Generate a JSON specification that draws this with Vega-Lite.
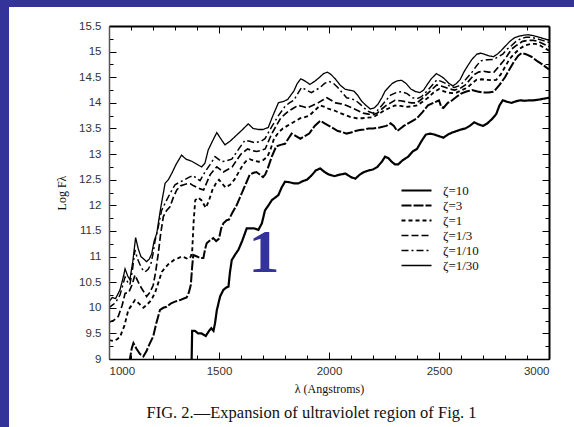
{
  "$schema": "https://vega.github.io/schema/vega-lite/v6.json",
  "width": 440,
  "height": 333,
  "autosize": "none",
  "padding": {"left": 109, "top": 26, "right": 25, "bottom": 68},
  "background": "#333399",
  "config": {"view": {"stroke": null}},
  "resolve": {"axis": {"x": "independent", "y": "independent"}},
  "layer": [
    {
      "data": {"values": [{"panel": "bg"}]},
      "mark": {"type": "rect", "fill": "white", "clip": false},
      "encoding": {
        "x": {"datum": 545.5, "type": "quantitative", "scale": {"domain": [1000, 3000], "nice": false, "zero": false},
          "axis": {"orient": "top", "values": [1000,1100,1200,1300,1400,1500,1600,1700,1800,1900,2000,2100,2200,2300,2400,2500,2600,2700,2800,2900,3000],
            "labels": false, "title": null, "grid": false, "domainColor": "#000", "domainWidth": 2, "tickColor": "#000",
            "tickSize": {"condition": {"test": "datum.value % 500 === 0", "value": -7}, "value": -4}, "zindex": 1}},
        "x2": {"datum": 3300},
        "y": {"datum": 15.87, "type": "quantitative", "scale": {"domain": [9, 15.5], "nice": false, "zero": false},
          "axis": {"orient": "right", "values": [9,9.25,9.5,9.75,10,10.25,10.5,10.75,11,11.25,11.5,11.75,12,12.25,12.5,12.75,13,13.25,13.5,13.75,14,14.25,14.5,14.75,15,15.25,15.5],
            "labels": false, "title": null, "grid": false, "domainColor": "#000", "domainWidth": 2, "tickColor": "#000",
            "tickSize": {"condition": {"test": "datum.value % 0.5 === 0", "value": -7}, "value": -4}, "zindex": 1}},
        "y2": {"datum": 6}
      }
    },
    {
      "data": {"values": [
{"z":"ζ=1/30","x":1000,"y":10.12},{"z":"ζ=1/30","x":1015,"y":10.2},{"z":"ζ=1/30","x":1030,"y":10.18},{"z":"ζ=1/30","x":1050,"y":10.35},{"z":"ζ=1/30","x":1065,"y":10.6},{"z":"ζ=1/30","x":1073,"y":10.76},{"z":"ζ=1/30","x":1085,"y":10.62},{"z":"ζ=1/30","x":1095,"y":10.55},{"z":"ζ=1/30","x":1108,"y":10.9},{"z":"ζ=1/30","x":1121,"y":11.37},{"z":"ζ=1/30","x":1133,"y":11.15},{"z":"ζ=1/30","x":1145,"y":11.0},{"z":"ζ=1/30","x":1158,"y":10.95},{"z":"ζ=1/30","x":1171,"y":10.9},{"z":"ζ=1/30","x":1183,"y":10.95},{"z":"ζ=1/30","x":1194,"y":11.05},{"z":"ζ=1/30","x":1205,"y":11.3},{"z":"ζ=1/30","x":1217,"y":11.45},{"z":"ζ=1/30","x":1235,"y":11.95},{"z":"ζ=1/30","x":1255,"y":12.43},{"z":"ζ=1/30","x":1270,"y":12.5},{"z":"ζ=1/30","x":1285,"y":12.62},{"z":"ζ=1/30","x":1305,"y":12.8},{"z":"ζ=1/30","x":1330,"y":12.98},{"z":"ζ=1/30","x":1350,"y":12.9},{"z":"ζ=1/30","x":1376,"y":12.86},{"z":"ζ=1/30","x":1400,"y":12.8},{"z":"ζ=1/30","x":1421,"y":12.75},{"z":"ζ=1/30","x":1436,"y":12.82},{"z":"ζ=1/30","x":1451,"y":13.08},{"z":"ζ=1/30","x":1470,"y":13.25},{"z":"ζ=1/30","x":1490,"y":13.42},{"z":"ζ=1/30","x":1508,"y":13.3},{"z":"ζ=1/30","x":1527,"y":13.18},{"z":"ζ=1/30","x":1550,"y":13.25},{"z":"ζ=1/30","x":1580,"y":13.37},{"z":"ζ=1/30","x":1605,"y":13.47},{"z":"ζ=1/30","x":1633,"y":13.59},{"z":"ζ=1/30","x":1655,"y":13.5},{"z":"ζ=1/30","x":1679,"y":13.48},{"z":"ζ=1/30","x":1700,"y":13.48},{"z":"ζ=1/30","x":1724,"y":13.52},{"z":"ζ=1/30","x":1745,"y":13.75},{"z":"ζ=1/30","x":1770,"y":14.0},{"z":"ζ=1/30","x":1795,"y":14.03},{"z":"ζ=1/30","x":1813,"y":14.07},{"z":"ζ=1/30","x":1840,"y":14.23},{"z":"ζ=1/30","x":1856,"y":14.38},{"z":"ζ=1/30","x":1872,"y":14.47},{"z":"ζ=1/30","x":1893,"y":14.42},{"z":"ζ=1/30","x":1913,"y":14.36},{"z":"ζ=1/30","x":1935,"y":14.42},{"z":"ζ=1/30","x":1955,"y":14.49},{"z":"ζ=1/30","x":1975,"y":14.57},{"z":"ζ=1/30","x":1993,"y":14.6},{"z":"ζ=1/30","x":2010,"y":14.55},{"z":"ζ=1/30","x":2030,"y":14.46},{"z":"ζ=1/30","x":2050,"y":14.35},{"z":"ζ=1/30","x":2072,"y":14.27},{"z":"ζ=1/30","x":2090,"y":14.25},{"z":"ζ=1/30","x":2113,"y":14.23},{"z":"ζ=1/30","x":2130,"y":14.15},{"z":"ζ=1/30","x":2147,"y":14.04},{"z":"ζ=1/30","x":2168,"y":13.95},{"z":"ζ=1/30","x":2188,"y":13.88},{"z":"ζ=1/30","x":2205,"y":13.9},{"z":"ζ=1/30","x":2222,"y":13.97},{"z":"ζ=1/30","x":2240,"y":14.1},{"z":"ζ=1/30","x":2255,"y":14.23},{"z":"ζ=1/30","x":2270,"y":14.3},{"z":"ζ=1/30","x":2288,"y":14.38},{"z":"ζ=1/30","x":2310,"y":14.43},{"z":"ζ=1/30","x":2330,"y":14.44},{"z":"ζ=1/30","x":2350,"y":14.38},{"z":"ζ=1/30","x":2372,"y":14.27},{"z":"ζ=1/30","x":2393,"y":14.22},{"z":"ζ=1/30","x":2413,"y":14.2},{"z":"ζ=1/30","x":2430,"y":14.25},{"z":"ζ=1/30","x":2447,"y":14.36},{"z":"ζ=1/30","x":2465,"y":14.47},{"z":"ζ=1/30","x":2488,"y":14.57},{"z":"ζ=1/30","x":2505,"y":14.53},{"z":"ζ=1/30","x":2522,"y":14.48},{"z":"ζ=1/30","x":2545,"y":14.38},{"z":"ζ=1/30","x":2563,"y":14.33},{"z":"ζ=1/30","x":2580,"y":14.38},{"z":"ζ=1/30","x":2597,"y":14.46},{"z":"ζ=1/30","x":2613,"y":14.6},{"z":"ζ=1/30","x":2630,"y":14.72},{"z":"ζ=1/30","x":2650,"y":14.85},{"z":"ζ=1/30","x":2672,"y":14.95},{"z":"ζ=1/30","x":2690,"y":14.97},{"z":"ζ=1/30","x":2705,"y":14.95},{"z":"ζ=1/30","x":2725,"y":14.92},{"z":"ζ=1/30","x":2747,"y":14.9},{"z":"ζ=1/30","x":2765,"y":14.95},{"z":"ζ=1/30","x":2780,"y":15.01},{"z":"ζ=1/30","x":2800,"y":15.1},{"z":"ζ=1/30","x":2822,"y":15.2},{"z":"ζ=1/30","x":2843,"y":15.27},{"z":"ζ=1/30","x":2863,"y":15.3},{"z":"ζ=1/30","x":2885,"y":15.32},{"z":"ζ=1/30","x":2905,"y":15.33},{"z":"ζ=1/30","x":2930,"y":15.31},{"z":"ζ=1/30","x":2955,"y":15.28},{"z":"ζ=1/30","x":2980,"y":15.25},{"z":"ζ=1/30","x":3000,"y":15.22},
{"z":"ζ=1/10","x":1000,"y":10.0},{"z":"ζ=1/10","x":1015,"y":10.05},{"z":"ζ=1/10","x":1030,"y":10.1},{"z":"ζ=1/10","x":1050,"y":10.25},{"z":"ζ=1/10","x":1073,"y":10.6},{"z":"ζ=1/10","x":1085,"y":10.5},{"z":"ζ=1/10","x":1095,"y":10.45},{"z":"ζ=1/10","x":1107,"y":10.75},{"z":"ζ=1/10","x":1118,"y":11.13},{"z":"ζ=1/10","x":1130,"y":10.95},{"z":"ζ=1/10","x":1140,"y":10.85},{"z":"ζ=1/10","x":1152,"y":10.75},{"z":"ζ=1/10","x":1164,"y":10.7},{"z":"ζ=1/10","x":1178,"y":10.75},{"z":"ζ=1/10","x":1190,"y":10.85},{"z":"ζ=1/10","x":1200,"y":11.05},{"z":"ζ=1/10","x":1209,"y":11.3},{"z":"ζ=1/10","x":1225,"y":11.6},{"z":"ζ=1/10","x":1239,"y":11.9},{"z":"ζ=1/10","x":1262,"y":12.1},{"z":"ζ=1/10","x":1280,"y":12.25},{"z":"ζ=1/10","x":1300,"y":12.4},{"z":"ζ=1/10","x":1320,"y":12.45},{"z":"ζ=1/10","x":1345,"y":12.5},{"z":"ζ=1/10","x":1365,"y":12.55},{"z":"ζ=1/10","x":1383,"y":12.58},{"z":"ζ=1/10","x":1400,"y":12.52},{"z":"ζ=1/10","x":1414,"y":12.48},{"z":"ζ=1/10","x":1436,"y":12.65},{"z":"ζ=1/10","x":1460,"y":12.8},{"z":"ζ=1/10","x":1482,"y":12.95},{"z":"ζ=1/10","x":1497,"y":12.9},{"z":"ζ=1/10","x":1512,"y":12.85},{"z":"ζ=1/10","x":1535,"y":12.87},{"z":"ζ=1/10","x":1558,"y":12.9},{"z":"ζ=1/10","x":1590,"y":13.1},{"z":"ζ=1/10","x":1618,"y":13.27},{"z":"ζ=1/10","x":1640,"y":13.25},{"z":"ζ=1/10","x":1664,"y":13.22},{"z":"ζ=1/10","x":1690,"y":13.25},{"z":"ζ=1/10","x":1709,"y":13.3},{"z":"ζ=1/10","x":1739,"y":13.53},{"z":"ζ=1/10","x":1770,"y":13.75},{"z":"ζ=1/10","x":1800,"y":13.93},{"z":"ζ=1/10","x":1820,"y":14.0},{"z":"ζ=1/10","x":1840,"y":14.05},{"z":"ζ=1/10","x":1858,"y":14.18},{"z":"ζ=1/10","x":1875,"y":14.3},{"z":"ζ=1/10","x":1898,"y":14.25},{"z":"ζ=1/10","x":1920,"y":14.2},{"z":"ζ=1/10","x":1940,"y":14.25},{"z":"ζ=1/10","x":1960,"y":14.3},{"z":"ζ=1/10","x":1980,"y":14.38},{"z":"ζ=1/10","x":2000,"y":14.42},{"z":"ζ=1/10","x":2020,"y":14.38},{"z":"ζ=1/10","x":2040,"y":14.3},{"z":"ζ=1/10","x":2060,"y":14.2},{"z":"ζ=1/10","x":2080,"y":14.1},{"z":"ζ=1/10","x":2100,"y":14.08},{"z":"ζ=1/10","x":2120,"y":14.05},{"z":"ζ=1/10","x":2140,"y":13.98},{"z":"ζ=1/10","x":2160,"y":13.9},{"z":"ζ=1/10","x":2180,"y":13.83},{"z":"ζ=1/10","x":2200,"y":13.8},{"z":"ζ=1/10","x":2220,"y":13.85},{"z":"ζ=1/10","x":2240,"y":13.95},{"z":"ζ=1/10","x":2260,"y":14.05},{"z":"ζ=1/10","x":2280,"y":14.15},{"z":"ζ=1/10","x":2305,"y":14.2},{"z":"ζ=1/10","x":2330,"y":14.22},{"z":"ζ=1/10","x":2355,"y":14.18},{"z":"ζ=1/10","x":2380,"y":14.1},{"z":"ζ=1/10","x":2400,"y":14.08},{"z":"ζ=1/10","x":2420,"y":14.12},{"z":"ζ=1/10","x":2450,"y":14.25},{"z":"ζ=1/10","x":2470,"y":14.35},{"z":"ζ=1/10","x":2490,"y":14.45},{"z":"ζ=1/10","x":2510,"y":14.42},{"z":"ζ=1/10","x":2530,"y":14.38},{"z":"ζ=1/10","x":2550,"y":14.32},{"z":"ζ=1/10","x":2570,"y":14.3},{"z":"ζ=1/10","x":2590,"y":14.33},{"z":"ζ=1/10","x":2610,"y":14.4},{"z":"ζ=1/10","x":2630,"y":14.5},{"z":"ζ=1/10","x":2650,"y":14.6},{"z":"ζ=1/10","x":2670,"y":14.72},{"z":"ζ=1/10","x":2690,"y":14.82},{"z":"ζ=1/10","x":2720,"y":14.84},{"z":"ζ=1/10","x":2750,"y":14.85},{"z":"ζ=1/10","x":2770,"y":14.9},{"z":"ζ=1/10","x":2790,"y":14.95},{"z":"ζ=1/10","x":2810,"y":15.05},{"z":"ζ=1/10","x":2830,"y":15.12},{"z":"ζ=1/10","x":2850,"y":15.2},{"z":"ζ=1/10","x":2870,"y":15.25},{"z":"ζ=1/10","x":2895,"y":15.28},{"z":"ζ=1/10","x":2920,"y":15.28},{"z":"ζ=1/10","x":2945,"y":15.25},{"z":"ζ=1/10","x":2970,"y":15.22},{"z":"ζ=1/10","x":3000,"y":15.18},
{"z":"ζ=1/3","x":1000,"y":9.72},{"z":"ζ=1/3","x":1020,"y":9.75},{"z":"ζ=1/3","x":1042,"y":9.83},{"z":"ζ=1/3","x":1060,"y":10.05},{"z":"ζ=1/3","x":1073,"y":10.28},{"z":"ζ=1/3","x":1090,"y":10.3},{"z":"ζ=1/3","x":1105,"y":10.45},{"z":"ζ=1/3","x":1118,"y":10.64},{"z":"ζ=1/3","x":1133,"y":10.5},{"z":"ζ=1/3","x":1148,"y":10.38},{"z":"ζ=1/3","x":1160,"y":10.3},{"z":"ζ=1/3","x":1171,"y":10.22},{"z":"ζ=1/3","x":1186,"y":10.3},{"z":"ζ=1/3","x":1201,"y":10.44},{"z":"ζ=1/3","x":1212,"y":10.7},{"z":"ζ=1/3","x":1224,"y":11.06},{"z":"ζ=1/3","x":1235,"y":11.45},{"z":"ζ=1/3","x":1247,"y":11.78},{"z":"ζ=1/3","x":1262,"y":11.9},{"z":"ζ=1/3","x":1277,"y":11.97},{"z":"ζ=1/3","x":1292,"y":12.15},{"z":"ζ=1/3","x":1308,"y":12.3},{"z":"ζ=1/3","x":1325,"y":12.38},{"z":"ζ=1/3","x":1340,"y":12.4},{"z":"ζ=1/3","x":1355,"y":12.42},{"z":"ζ=1/3","x":1370,"y":12.42},{"z":"ζ=1/3","x":1385,"y":12.38},{"z":"ζ=1/3","x":1400,"y":12.35},{"z":"ζ=1/3","x":1415,"y":12.32},{"z":"ζ=1/3","x":1430,"y":12.3},{"z":"ζ=1/3","x":1445,"y":12.45},{"z":"ζ=1/3","x":1460,"y":12.6},{"z":"ζ=1/3","x":1475,"y":12.68},{"z":"ζ=1/3","x":1490,"y":12.75},{"z":"ζ=1/3","x":1505,"y":12.7},{"z":"ζ=1/3","x":1520,"y":12.65},{"z":"ζ=1/3","x":1540,"y":12.7},{"z":"ζ=1/3","x":1560,"y":12.75},{"z":"ζ=1/3","x":1580,"y":12.88},{"z":"ζ=1/3","x":1600,"y":13.0},{"z":"ζ=1/3","x":1615,"y":13.05},{"z":"ζ=1/3","x":1630,"y":13.1},{"z":"ζ=1/3","x":1650,"y":13.07},{"z":"ζ=1/3","x":1670,"y":13.05},{"z":"ζ=1/3","x":1690,"y":13.07},{"z":"ζ=1/3","x":1710,"y":13.1},{"z":"ζ=1/3","x":1725,"y":13.25},{"z":"ζ=1/3","x":1740,"y":13.4},{"z":"ζ=1/3","x":1760,"y":13.55},{"z":"ζ=1/3","x":1780,"y":13.7},{"z":"ζ=1/3","x":1800,"y":13.78},{"z":"ζ=1/3","x":1820,"y":13.85},{"z":"ζ=1/3","x":1840,"y":13.9},{"z":"ζ=1/3","x":1860,"y":13.95},{"z":"ζ=1/3","x":1880,"y":13.93},{"z":"ζ=1/3","x":1900,"y":13.9},{"z":"ζ=1/3","x":1925,"y":13.95},{"z":"ζ=1/3","x":1950,"y":14.0},{"z":"ζ=1/3","x":1970,"y":14.05},{"z":"ζ=1/3","x":1990,"y":14.1},{"z":"ζ=1/3","x":2010,"y":14.05},{"z":"ζ=1/3","x":2030,"y":14.0},{"z":"ζ=1/3","x":2055,"y":13.98},{"z":"ζ=1/3","x":2080,"y":13.95},{"z":"ζ=1/3","x":2105,"y":13.9},{"z":"ζ=1/3","x":2130,"y":13.85},{"z":"ζ=1/3","x":2155,"y":13.8},{"z":"ζ=1/3","x":2180,"y":13.78},{"z":"ζ=1/3","x":2200,"y":13.77},{"z":"ζ=1/3","x":2220,"y":13.8},{"z":"ζ=1/3","x":2240,"y":13.88},{"z":"ζ=1/3","x":2260,"y":13.95},{"z":"ζ=1/3","x":2280,"y":14.0},{"z":"ζ=1/3","x":2300,"y":14.05},{"z":"ζ=1/3","x":2325,"y":14.04},{"z":"ζ=1/3","x":2350,"y":14.02},{"z":"ζ=1/3","x":2375,"y":14.0},{"z":"ζ=1/3","x":2400,"y":14.0},{"z":"ζ=1/3","x":2420,"y":14.07},{"z":"ζ=1/3","x":2440,"y":14.15},{"z":"ζ=1/3","x":2465,"y":14.25},{"z":"ζ=1/3","x":2490,"y":14.35},{"z":"ζ=1/3","x":2510,"y":14.33},{"z":"ζ=1/3","x":2530,"y":14.3},{"z":"ζ=1/3","x":2550,"y":14.27},{"z":"ζ=1/3","x":2570,"y":14.25},{"z":"ζ=1/3","x":2595,"y":14.28},{"z":"ζ=1/3","x":2620,"y":14.35},{"z":"ζ=1/3","x":2640,"y":14.45},{"z":"ζ=1/3","x":2660,"y":14.55},{"z":"ζ=1/3","x":2680,"y":14.6},{"z":"ζ=1/3","x":2700,"y":14.62},{"z":"ζ=1/3","x":2725,"y":14.6},{"z":"ζ=1/3","x":2750,"y":14.6},{"z":"ζ=1/3","x":2770,"y":14.7},{"z":"ζ=1/3","x":2790,"y":14.8},{"z":"ζ=1/3","x":2810,"y":14.92},{"z":"ζ=1/3","x":2830,"y":15.05},{"z":"ζ=1/3","x":2855,"y":15.13},{"z":"ζ=1/3","x":2880,"y":15.2},{"z":"ζ=1/3","x":2905,"y":15.22},{"z":"ζ=1/3","x":2930,"y":15.22},{"z":"ζ=1/3","x":2950,"y":15.2},{"z":"ζ=1/3","x":2975,"y":15.15},{"z":"ζ=1/3","x":3000,"y":15.1},
{"z":"ζ=1","x":1000,"y":9.37},{"z":"ζ=1","x":1020,"y":9.35},{"z":"ζ=1","x":1035,"y":9.38},{"z":"ζ=1","x":1050,"y":9.43},{"z":"ζ=1","x":1070,"y":9.65},{"z":"ζ=1","x":1088,"y":9.96},{"z":"ζ=1","x":1103,"y":10.05},{"z":"ζ=1","x":1118,"y":10.15},{"z":"ζ=1","x":1137,"y":10.08},{"z":"ζ=1","x":1156,"y":10.0},{"z":"ζ=1","x":1170,"y":10.05},{"z":"ζ=1","x":1186,"y":10.12},{"z":"ζ=1","x":1198,"y":10.2},{"z":"ζ=1","x":1210,"y":10.3},{"z":"ζ=1","x":1225,"y":10.5},{"z":"ζ=1","x":1240,"y":10.7},{"z":"ζ=1","x":1255,"y":10.78},{"z":"ζ=1","x":1270,"y":10.85},{"z":"ζ=1","x":1285,"y":10.9},{"z":"ζ=1","x":1300,"y":10.95},{"z":"ζ=1","x":1315,"y":10.97},{"z":"ζ=1","x":1330,"y":11.0},{"z":"ζ=1","x":1345,"y":10.98},{"z":"ζ=1","x":1360,"y":10.95},{"z":"ζ=1","x":1372,"y":11.0},{"z":"ζ=1","x":1378,"y":11.1},{"z":"ζ=1","x":1385,"y":11.7},{"z":"ζ=1","x":1392,"y":12.1},{"z":"ζ=1","x":1405,"y":12.15},{"z":"ζ=1","x":1420,"y":12.1},{"z":"ζ=1","x":1440,"y":11.95},{"z":"ζ=1","x":1455,"y":12.1},{"z":"ζ=1","x":1470,"y":12.3},{"z":"ζ=1","x":1485,"y":12.42},{"z":"ζ=1","x":1500,"y":12.5},{"z":"ζ=1","x":1515,"y":12.42},{"z":"ζ=1","x":1530,"y":12.35},{"z":"ζ=1","x":1550,"y":12.4},{"z":"ζ=1","x":1570,"y":12.5},{"z":"ζ=1","x":1590,"y":12.65},{"z":"ζ=1","x":1610,"y":12.8},{"z":"ζ=1","x":1625,"y":12.87},{"z":"ζ=1","x":1640,"y":12.9},{"z":"ζ=1","x":1660,"y":12.87},{"z":"ζ=1","x":1680,"y":12.85},{"z":"ζ=1","x":1700,"y":12.88},{"z":"ζ=1","x":1720,"y":12.95},{"z":"ζ=1","x":1735,"y":13.1},{"z":"ζ=1","x":1750,"y":13.3},{"z":"ζ=1","x":1770,"y":13.42},{"z":"ζ=1","x":1790,"y":13.5},{"z":"ζ=1","x":1810,"y":13.55},{"z":"ζ=1","x":1830,"y":13.6},{"z":"ζ=1","x":1850,"y":13.65},{"z":"ζ=1","x":1870,"y":13.7},{"z":"ζ=1","x":1890,"y":13.72},{"z":"ζ=1","x":1910,"y":13.75},{"z":"ζ=1","x":1935,"y":13.85},{"z":"ζ=1","x":1960,"y":13.95},{"z":"ζ=1","x":1980,"y":13.92},{"z":"ζ=1","x":2000,"y":13.88},{"z":"ζ=1","x":2025,"y":13.85},{"z":"ζ=1","x":2050,"y":13.8},{"z":"ζ=1","x":2075,"y":13.76},{"z":"ζ=1","x":2100,"y":13.72},{"z":"ζ=1","x":2125,"y":13.7},{"z":"ζ=1","x":2150,"y":13.7},{"z":"ζ=1","x":2175,"y":13.71},{"z":"ζ=1","x":2200,"y":13.72},{"z":"ζ=1","x":2225,"y":13.78},{"z":"ζ=1","x":2250,"y":13.85},{"z":"ζ=1","x":2275,"y":13.9},{"z":"ζ=1","x":2300,"y":13.95},{"z":"ζ=1","x":2325,"y":13.94},{"z":"ζ=1","x":2350,"y":13.92},{"z":"ζ=1","x":2375,"y":13.93},{"z":"ζ=1","x":2400,"y":13.95},{"z":"ζ=1","x":2425,"y":14.02},{"z":"ζ=1","x":2450,"y":14.1},{"z":"ζ=1","x":2475,"y":14.2},{"z":"ζ=1","x":2500,"y":14.27},{"z":"ζ=1","x":2520,"y":14.23},{"z":"ζ=1","x":2540,"y":14.2},{"z":"ζ=1","x":2560,"y":14.19},{"z":"ζ=1","x":2580,"y":14.2},{"z":"ζ=1","x":2605,"y":14.25},{"z":"ζ=1","x":2630,"y":14.3},{"z":"ζ=1","x":2650,"y":14.38},{"z":"ζ=1","x":2670,"y":14.45},{"z":"ζ=1","x":2695,"y":14.46},{"z":"ζ=1","x":2720,"y":14.45},{"z":"ζ=1","x":2740,"y":14.44},{"z":"ζ=1","x":2760,"y":14.45},{"z":"ζ=1","x":2780,"y":14.55},{"z":"ζ=1","x":2800,"y":14.7},{"z":"ζ=1","x":2820,"y":14.85},{"z":"ζ=1","x":2840,"y":14.95},{"z":"ζ=1","x":2865,"y":15.05},{"z":"ζ=1","x":2890,"y":15.12},{"z":"ζ=1","x":2915,"y":15.15},{"z":"ζ=1","x":2940,"y":15.15},{"z":"ζ=1","x":2960,"y":15.12},{"z":"ζ=1","x":2980,"y":15.07},{"z":"ζ=1","x":3000,"y":15.02},
{"z":"ζ=3","x":1085,"y":8.7},{"z":"ζ=3","x":1095,"y":9.0},{"z":"ζ=3","x":1103,"y":9.2},{"z":"ζ=3","x":1111,"y":9.31},{"z":"ζ=3","x":1125,"y":9.2},{"z":"ζ=3","x":1140,"y":9.1},{"z":"ζ=3","x":1156,"y":9.05},{"z":"ζ=3","x":1170,"y":9.15},{"z":"ζ=3","x":1185,"y":9.3},{"z":"ζ=3","x":1201,"y":9.44},{"z":"ζ=3","x":1215,"y":9.7},{"z":"ζ=3","x":1232,"y":9.96},{"z":"ζ=3","x":1247,"y":10.0},{"z":"ζ=3","x":1262,"y":10.02},{"z":"ζ=3","x":1280,"y":10.08},{"z":"ζ=3","x":1300,"y":10.12},{"z":"ζ=3","x":1323,"y":10.15},{"z":"ζ=3","x":1340,"y":10.18},{"z":"ζ=3","x":1353,"y":10.2},{"z":"ζ=3","x":1363,"y":10.3},{"z":"ζ=3","x":1372,"y":10.45},{"z":"ζ=3","x":1378,"y":10.8},{"z":"ζ=3","x":1383,"y":11.03},{"z":"ζ=3","x":1400,"y":11.0},{"z":"ζ=3","x":1415,"y":10.97},{"z":"ζ=3","x":1429,"y":10.97},{"z":"ζ=3","x":1437,"y":11.15},{"z":"ζ=3","x":1444,"y":11.26},{"z":"ζ=3","x":1460,"y":11.32},{"z":"ζ=3","x":1474,"y":11.36},{"z":"ζ=3","x":1487,"y":11.3},{"z":"ζ=3","x":1500,"y":11.35},{"z":"ζ=3","x":1510,"y":11.55},{"z":"ζ=3","x":1520,"y":11.65},{"z":"ζ=3","x":1535,"y":11.71},{"z":"ζ=3","x":1545,"y":11.72},{"z":"ζ=3","x":1560,"y":11.85},{"z":"ζ=3","x":1580,"y":12.0},{"z":"ζ=3","x":1595,"y":12.15},{"z":"ζ=3","x":1610,"y":12.3},{"z":"ζ=3","x":1625,"y":12.45},{"z":"ζ=3","x":1640,"y":12.6},{"z":"ζ=3","x":1655,"y":12.63},{"z":"ζ=3","x":1670,"y":12.65},{"z":"ζ=3","x":1685,"y":12.6},{"z":"ζ=3","x":1700,"y":12.55},{"z":"ζ=3","x":1710,"y":12.6},{"z":"ζ=3","x":1720,"y":12.7},{"z":"ζ=3","x":1740,"y":12.95},{"z":"ζ=3","x":1760,"y":13.15},{"z":"ζ=3","x":1780,"y":13.18},{"z":"ζ=3","x":1800,"y":13.2},{"z":"ζ=3","x":1815,"y":13.3},{"z":"ζ=3","x":1830,"y":13.4},{"z":"ζ=3","x":1850,"y":13.35},{"z":"ζ=3","x":1870,"y":13.3},{"z":"ζ=3","x":1890,"y":13.35},{"z":"ζ=3","x":1910,"y":13.4},{"z":"ζ=3","x":1935,"y":13.55},{"z":"ζ=3","x":1960,"y":13.65},{"z":"ζ=3","x":1980,"y":13.6},{"z":"ζ=3","x":2000,"y":13.55},{"z":"ζ=3","x":2020,"y":13.5},{"z":"ζ=3","x":2040,"y":13.45},{"z":"ζ=3","x":2060,"y":13.43},{"z":"ζ=3","x":2080,"y":13.4},{"z":"ζ=3","x":2100,"y":13.42},{"z":"ζ=3","x":2120,"y":13.45},{"z":"ζ=3","x":2140,"y":13.47},{"z":"ζ=3","x":2160,"y":13.48},{"z":"ζ=3","x":2180,"y":13.5},{"z":"ζ=3","x":2200,"y":13.5},{"z":"ζ=3","x":2230,"y":13.52},{"z":"ζ=3","x":2260,"y":13.55},{"z":"ζ=3","x":2280,"y":13.6},{"z":"ζ=3","x":2295,"y":13.55},{"z":"ζ=3","x":2310,"y":13.45},{"z":"ζ=3","x":2325,"y":13.5},{"z":"ζ=3","x":2340,"y":13.55},{"z":"ζ=3","x":2360,"y":13.6},{"z":"ζ=3","x":2380,"y":13.65},{"z":"ζ=3","x":2400,"y":13.7},{"z":"ζ=3","x":2425,"y":13.82},{"z":"ζ=3","x":2450,"y":13.95},{"z":"ζ=3","x":2475,"y":14.0},{"z":"ζ=3","x":2500,"y":14.05},{"z":"ζ=3","x":2510,"y":13.92},{"z":"ζ=3","x":2520,"y":13.9},{"z":"ζ=3","x":2540,"y":14.0},{"z":"ζ=3","x":2560,"y":14.05},{"z":"ζ=3","x":2580,"y":14.12},{"z":"ζ=3","x":2600,"y":14.18},{"z":"ζ=3","x":2625,"y":14.22},{"z":"ζ=3","x":2650,"y":14.25},{"z":"ζ=3","x":2675,"y":14.22},{"z":"ζ=3","x":2700,"y":14.2},{"z":"ζ=3","x":2725,"y":14.2},{"z":"ζ=3","x":2750,"y":14.22},{"z":"ζ=3","x":2775,"y":14.35},{"z":"ζ=3","x":2800,"y":14.5},{"z":"ζ=3","x":2820,"y":14.65},{"z":"ζ=3","x":2840,"y":14.8},{"z":"ζ=3","x":2860,"y":14.92},{"z":"ζ=3","x":2875,"y":14.97},{"z":"ζ=3","x":2895,"y":14.95},{"z":"ζ=3","x":2920,"y":14.9},{"z":"ζ=3","x":2945,"y":14.82},{"z":"ζ=3","x":2970,"y":14.75},{"z":"ζ=3","x":3000,"y":14.65},
{"z":"ζ=10","x":1374,"y":8.6},{"z":"ζ=10","x":1378,"y":9.55},{"z":"ζ=10","x":1390,"y":9.55},{"z":"ζ=10","x":1405,"y":9.5},{"z":"ζ=10","x":1420,"y":9.5},{"z":"ζ=10","x":1440,"y":9.45},{"z":"ζ=10","x":1455,"y":9.55},{"z":"ζ=10","x":1465,"y":9.6},{"z":"ζ=10","x":1475,"y":9.55},{"z":"ζ=10","x":1482,"y":9.7},{"z":"ζ=10","x":1490,"y":9.95},{"z":"ζ=10","x":1505,"y":10.22},{"z":"ζ=10","x":1520,"y":10.35},{"z":"ζ=10","x":1535,"y":10.4},{"z":"ζ=10","x":1543,"y":10.41},{"z":"ζ=10","x":1550,"y":10.7},{"z":"ζ=10","x":1558,"y":10.93},{"z":"ζ=10","x":1575,"y":11.05},{"z":"ζ=10","x":1588,"y":11.13},{"z":"ζ=10","x":1605,"y":11.3},{"z":"ζ=10","x":1626,"y":11.55},{"z":"ζ=10","x":1645,"y":11.55},{"z":"ζ=10","x":1660,"y":11.55},{"z":"ζ=10","x":1679,"y":11.52},{"z":"ζ=10","x":1695,"y":11.65},{"z":"ζ=10","x":1709,"y":11.9},{"z":"ζ=10","x":1725,"y":12.0},{"z":"ζ=10","x":1740,"y":12.1},{"z":"ζ=10","x":1755,"y":12.15},{"z":"ζ=10","x":1770,"y":12.2},{"z":"ζ=10","x":1785,"y":12.35},{"z":"ζ=10","x":1800,"y":12.46},{"z":"ζ=10","x":1820,"y":12.45},{"z":"ζ=10","x":1840,"y":12.43},{"z":"ζ=10","x":1861,"y":12.43},{"z":"ζ=10","x":1880,"y":12.47},{"z":"ζ=10","x":1900,"y":12.5},{"z":"ζ=10","x":1920,"y":12.58},{"z":"ζ=10","x":1940,"y":12.68},{"z":"ζ=10","x":1960,"y":12.72},{"z":"ζ=10","x":1980,"y":12.65},{"z":"ζ=10","x":2000,"y":12.6},{"z":"ζ=10","x":2025,"y":12.57},{"z":"ζ=10","x":2050,"y":12.6},{"z":"ζ=10","x":2075,"y":12.62},{"z":"ζ=10","x":2100,"y":12.55},{"z":"ζ=10","x":2120,"y":12.52},{"z":"ζ=10","x":2140,"y":12.6},{"z":"ζ=10","x":2160,"y":12.65},{"z":"ζ=10","x":2180,"y":12.68},{"z":"ζ=10","x":2200,"y":12.7},{"z":"ζ=10","x":2220,"y":12.75},{"z":"ζ=10","x":2240,"y":12.85},{"z":"ζ=10","x":2255,"y":12.95},{"z":"ζ=10","x":2270,"y":12.92},{"z":"ζ=10","x":2285,"y":12.85},{"z":"ζ=10","x":2300,"y":12.8},{"z":"ζ=10","x":2315,"y":12.8},{"z":"ζ=10","x":2335,"y":12.88},{"z":"ζ=10","x":2360,"y":12.95},{"z":"ζ=10","x":2380,"y":13.05},{"z":"ζ=10","x":2400,"y":13.1},{"z":"ζ=10","x":2420,"y":13.25},{"z":"ζ=10","x":2440,"y":13.38},{"z":"ζ=10","x":2460,"y":13.4},{"z":"ζ=10","x":2480,"y":13.38},{"z":"ζ=10","x":2500,"y":13.35},{"z":"ζ=10","x":2520,"y":13.32},{"z":"ζ=10","x":2540,"y":13.38},{"z":"ζ=10","x":2560,"y":13.42},{"z":"ζ=10","x":2580,"y":13.45},{"z":"ζ=10","x":2600,"y":13.48},{"z":"ζ=10","x":2620,"y":13.5},{"z":"ζ=10","x":2640,"y":13.55},{"z":"ζ=10","x":2660,"y":13.62},{"z":"ζ=10","x":2680,"y":13.58},{"z":"ζ=10","x":2700,"y":13.55},{"z":"ζ=10","x":2720,"y":13.6},{"z":"ζ=10","x":2740,"y":13.68},{"z":"ζ=10","x":2760,"y":13.78},{"z":"ζ=10","x":2775,"y":13.95},{"z":"ζ=10","x":2790,"y":14.05},{"z":"ζ=10","x":2810,"y":14.02},{"z":"ζ=10","x":2830,"y":14.0},{"z":"ζ=10","x":2850,"y":14.03},{"z":"ζ=10","x":2870,"y":14.05},{"z":"ζ=10","x":2890,"y":14.04},{"z":"ζ=10","x":2910,"y":14.05},{"z":"ζ=10","x":2930,"y":14.05},{"z":"ζ=10","x":2950,"y":14.06},{"z":"ζ=10","x":2975,"y":14.08},{"z":"ζ=10","x":3000,"y":14.1}
      ]},
      "mark": {"type": "line", "clip": true, "color": "#000", "strokeCap": "butt"},
      "encoding": {
        "x": {"field": "x", "type": "quantitative", "scale": {"domain": [1000, 3000], "nice": false, "zero": false},
          "axis": {"orient": "bottom", "values": [1000,1100,1200,1300,1400,1500,1600,1700,1800,1900,2000,2100,2200,2300,2400,2500,2600,2700,2800,2900,3000],
            "labelExpr": "datum.value % 500 === 0 ? '' + datum.value : ''", "labelOverlap": false,
            "labelFont": "Liberation Sans", "labelFontSize": 11.5, "labelColor": "#333", "labelPadding": 13,
            "title": "λ (Angstroms)", "titleFont": "Liberation Serif", "titleFontSize": 12, "titleFontWeight": "normal", "titleColor": "#111", "titlePadding": 4,
            "grid": false, "domainColor": "#000", "domainWidth": 1.5, "tickColor": "#000",
            "tickSize": {"condition": {"test": "datum.value % 500 === 0", "value": -7}, "value": -4}, "zindex": 1}},
        "y": {"field": "y", "type": "quantitative", "scale": {"domain": [9, 15.5], "nice": false, "zero": false},
          "axis": {"orient": "left", "values": [9,9.25,9.5,9.75,10,10.25,10.5,10.75,11,11.25,11.5,11.75,12,12.25,12.5,12.75,13,13.25,13.5,13.75,14,14.25,14.5,14.75,15,15.25,15.5],
            "labelExpr": "datum.value % 0.5 === 0 ? '' + datum.value : ''", "labelOverlap": false,
            "labelFont": "Liberation Sans", "labelFontSize": 11.5, "labelColor": "#333", "labelPadding": 15,
            "title": "Log Fλ", "titleFont": "Liberation Serif", "titleFontSize": 12, "titleFontWeight": "normal", "titleColor": "#111", "titlePadding": 10,
            "grid": false, "domainColor": "#555", "domainWidth": 1.5, "tickColor": "#000",
            "tickSize": {"condition": {"test": "datum.value % 0.5 === 0", "value": -7}, "value": -4}, "zindex": 1}},
        "detail": {"field": "z"},
        "strokeDash": {"field": "z", "type": "nominal", "sort": ["ζ=10","ζ=3","ζ=1","ζ=1/3","ζ=1/10","ζ=1/30"],
          "scale": {"domain": ["ζ=10","ζ=3","ζ=1","ζ=1/3","ζ=1/10","ζ=1/30"], "range": [[1,0],[10,2],[4,3],[7,3],[7,3,2,3],[1,0]]},
          "legend": {"title": null, "orient": "none", "legendX": 301, "legendY": 158, "symbolType": "M-3,0H3", "symbolSize": 100,
            "symbolStrokeColor": "#000", "labelFont": "Liberation Serif", "labelFontSize": 13, "labelColor": "#111", "labelOffset": 20, "rowPadding": 1, "zindex": 1}},
        "strokeWidth": {"field": "z", "type": "nominal",
          "scale": {"domain": ["ζ=10","ζ=3","ζ=1","ζ=1/3","ζ=1/10","ζ=1/30"], "range": [2.2, 1.3, 1.2, 1.2, 1.2, 1.6]},
          "legend": {"title": null, "orient": "none", "legendX": 301, "legendY": 158, "symbolType": "M-3,0H3", "symbolSize": 100,
            "symbolStrokeColor": "#000", "labelFont": "Liberation Serif", "labelFontSize": 13, "labelColor": "#111", "labelOffset": 20, "rowPadding": 1, "zindex": 1}}
      }
    },
    {
      "data": {"values": [{"x": 1705, "y": 10.7, "label": "1"}]},
      "mark": {"type": "text", "font": "Liberation Serif", "fontWeight": "bold", "fontSize": 62, "color": "#333399", "align": "center", "baseline": "alphabetic"},
      "encoding": {
        "x": {"field": "x", "type": "quantitative", "scale": {"domain": [1000, 3000], "nice": false, "zero": false},
          "axis": {"orient": "bottom", "labels": false, "ticks": false, "domain": false, "grid": false,
            "title": "FIG. 2.—Expansion of ultraviolet region of Fig. 1", "titleFont": "Liberation Serif", "titleFontSize": 16.5, "titleFontWeight": "normal",
            "titleColor": "#111", "titlePadding": 45, "titleX": 202, "titleAlign": "center", "zindex": 1}},
        "y": {"field": "y", "type": "quantitative", "scale": {"domain": [9, 15.5], "nice": false, "zero": false}, "axis": null},
        "text": {"field": "label"}
      }
    }
  ]
}
